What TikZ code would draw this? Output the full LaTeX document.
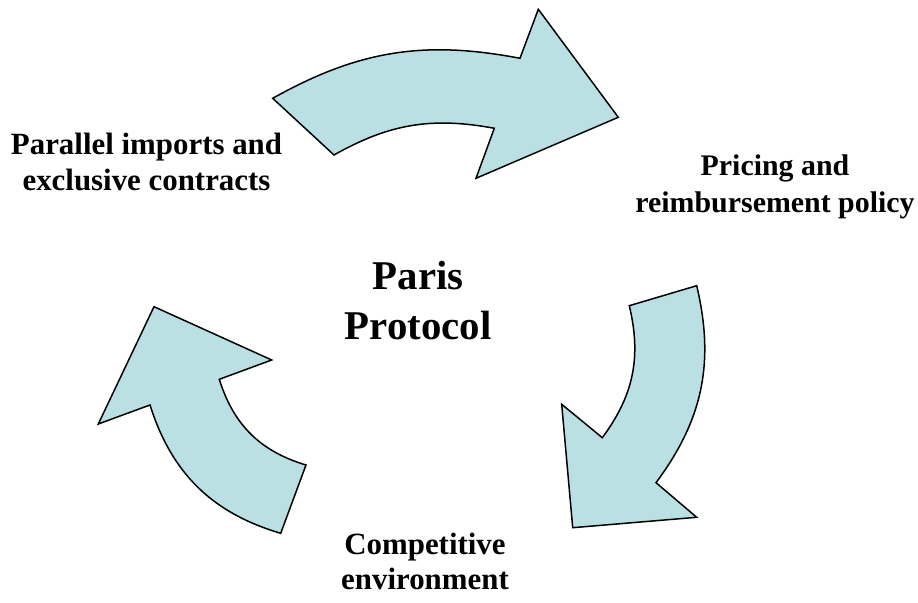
\documentclass[tikz,border=0pt]{standalone}
\usepackage{fontspec}
\setmainfont{Liberation Serif}
\usepackage{xcolor}
\usepackage{tikz}
\definecolor{arrowfill}{RGB}{187,224,227}

\begin{document}
\begin{tikzpicture}[x=1bp, y=1bp,
    cyclearrow/.style={fill=arrowfill, draw=black, line width=1.5bp, line join=miter},
    steplabel/.style={align=center, inner sep=0pt, font=\bfseries\fontsize{31}{36}\selectfont},
    centrelabel/.style={align=center, inner sep=0pt, font=\bfseries\fontsize{41}{50}\selectfont}]
    \useasboundingbox (0,0) rectangle (918,603);

    % Top arrow
    \draw[cyclearrow] (272.7,504.7) to[bend left=20] (520,544.7) -- (538.3,593.7) -- (618.3,485.7)
        -- (476,424.7) -- (494.3,474.7) to[bend right=20] (334,448) -- cycle;

    % Right arrow
    \draw[cyclearrow] (696.7,317.3) to[bend left=25] (656,120.3) -- (696.7,85.7) -- (572.7,75.3)
        -- (561.7,198.7) -- (602.3,165.3) to[bend right=25] (629.3,297.3) -- cycle;

    % Left arrow
    \draw[cyclearrow] (280.7,69.7) to[bend left=28] (150,198) -- (98.3,179) -- (154,296.3)
        -- (271.7,243) -- (219.3,223.7) to[bend right=28] (306,138) -- cycle;

    % Labels
    \node[centrelabel] (paris) at (418,302.5) {Paris\\Protocol};
    \node[steplabel] (imports) at (146.5,441) {Parallel imports and\\exclusive contracts};
    \node[steplabel, font=\bfseries\fontsize{30}{37}\selectfont] (pricing) at (775,416) {Pricing and\\reimbursement policy};
    \node[steplabel] (competition) at (425,41.5) {Competitive\\environment};
\end{tikzpicture}
\end{document}
